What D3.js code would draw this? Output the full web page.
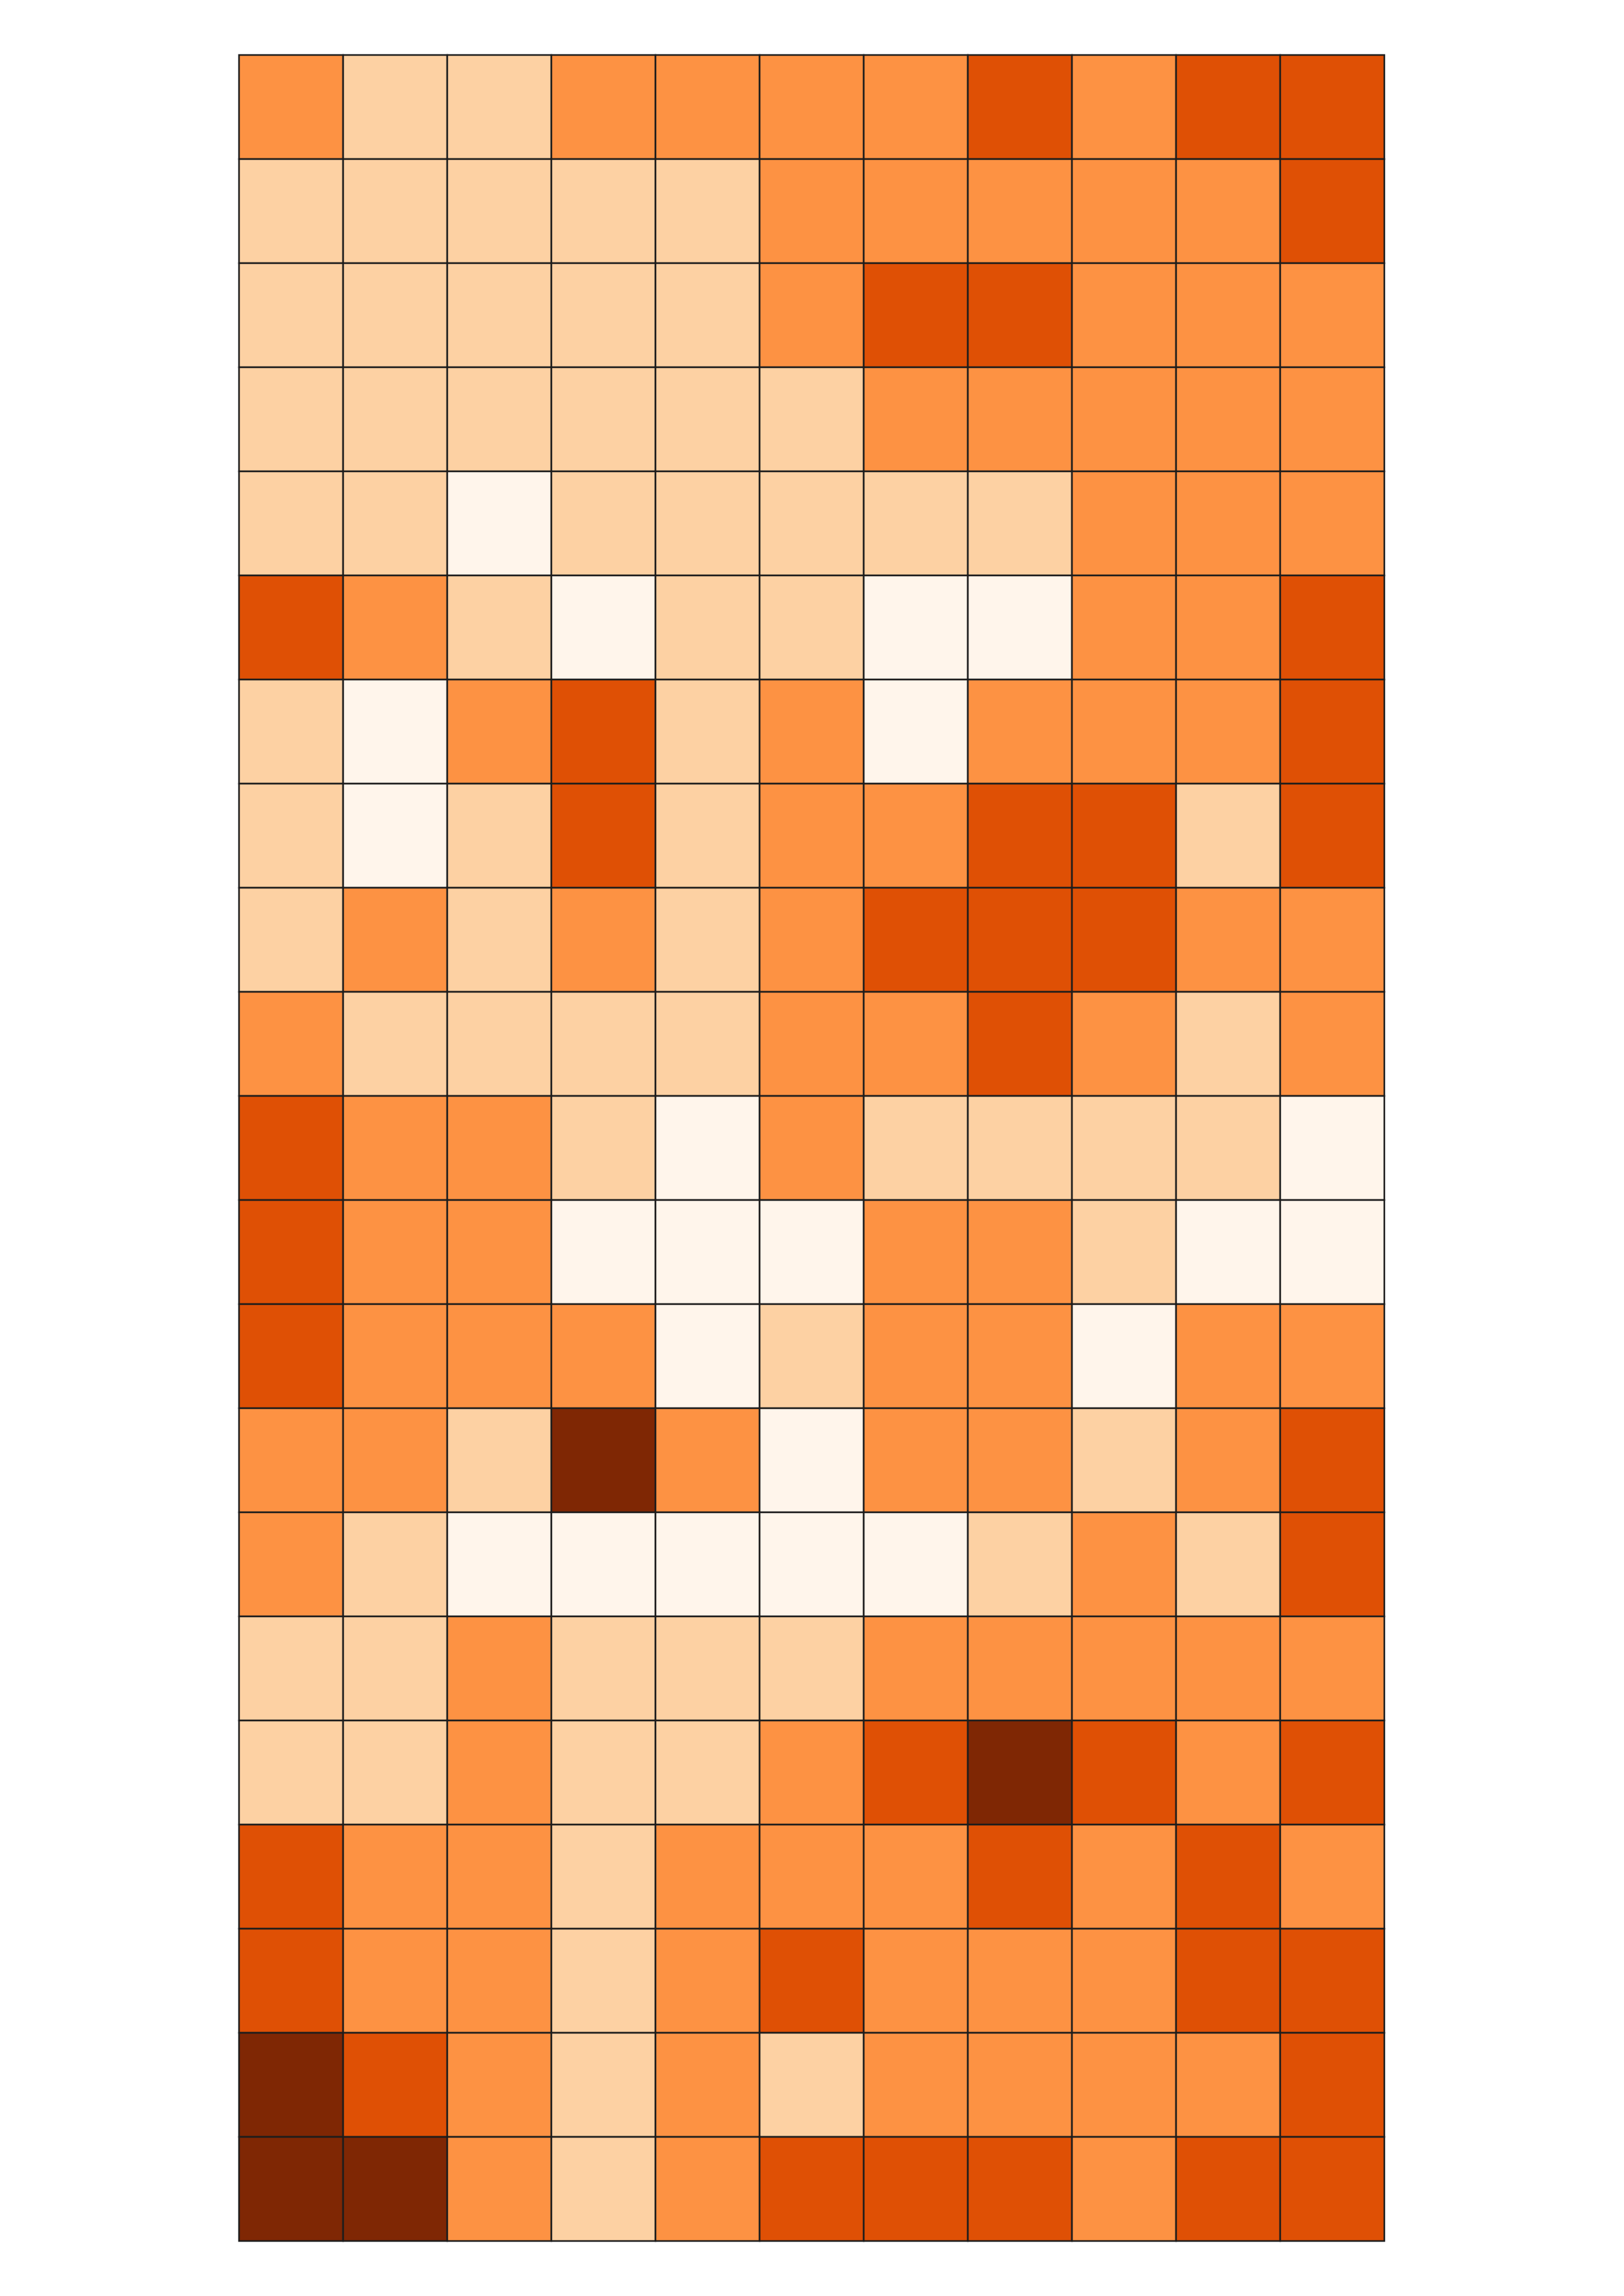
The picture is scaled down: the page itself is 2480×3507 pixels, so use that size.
<!DOCTYPE html>
<html>
<head>
<meta charset="utf-8">
<script src="https://cdn.jsdelivr.net/npm/d3@7"></script>
<style>
  html, body { margin: 0; padding: 0; background: #ffffff; }
  svg { display: block; }
</style>
</head>
<body>
<svg id="chart" width="2480" height="3507"></svg>
<script>
// Column and row categories (no labels drawn in the reference)
const columns = ["c1","c2","c3","c4","c5","c6","c7","c8","c9","c10","c11"];
const rows = ["r1","r2","r3","r4","r5","r6","r7","r8","r9","r10","r11",
              "r12","r13","r14","r15","r16","r17","r18","r19","r20","r21"];

// Discrete class levels (0 = lightest ... 4 = darkest), one array per row
const r1  = [2,1,1,2,2,2,2,3,2,3,3];
const r2  = [1,1,1,1,1,2,2,2,2,2,3];
const r3  = [1,1,1,1,1,2,3,3,2,2,2];
const r4  = [1,1,1,1,1,1,2,2,2,2,2];
const r5  = [1,1,0,1,1,1,1,1,2,2,2];
const r6  = [3,2,1,0,1,1,0,0,2,2,3];
const r7  = [1,0,2,3,1,2,0,2,2,2,3];
const r8  = [1,0,1,3,1,2,2,3,3,1,3];
const r9  = [1,2,1,2,1,2,3,3,3,2,2];
const r10 = [2,1,1,1,1,2,2,3,2,1,2];
const r11 = [3,2,2,1,0,2,1,1,1,1,0];
const r12 = [3,2,2,0,0,0,2,2,1,0,0];
const r13 = [3,2,2,2,0,1,2,2,0,2,2];
const r14 = [2,2,1,4,2,0,2,2,1,2,3];
const r15 = [2,1,0,0,0,0,0,1,2,1,3];
const r16 = [1,1,2,1,1,1,2,2,2,2,2];
const r17 = [1,1,2,1,1,2,3,4,3,2,3];
const r18 = [3,2,2,1,2,2,2,3,2,3,2];
const r19 = [3,2,2,1,2,3,2,2,2,3,3];
const r20 = [4,3,2,1,2,1,2,2,2,2,3];
const r21 = [4,4,2,1,2,3,3,3,2,3,3];
const levelRows = [r1,r2,r3,r4,r5,r6,r7,r8,r9,r10,r11,r12,r13,r14,r15,r16,r17,r18,r19,r20,r21];

const levels = [0,1,2,3,4];
const palette = ["#fff5eb","#fdd1a3","#fd9243","#df5005","#7f2704"];

// Build cell table from the arrays
const cells = [];
levelRows.forEach((vals, i) => {
  vals.forEach((v, j) => cells.push({row: rows[i], col: columns[j], value: v}));
});

const plotLeft = 365, plotRight = 2114, plotTop = 84, plotBottom = 3423;

const x = d3.scaleBand().domain(columns).range([plotLeft, plotRight]).padding(0);
const y = d3.scaleBand().domain(rows).range([plotTop, plotBottom]).padding(0);
const color = d3.scaleOrdinal().domain(levels).range(palette);

const svg = d3.select("#chart");
svg.append("rect").attr("width", 2480).attr("height", 3507).attr("fill", "#ffffff");

svg.append("g")
  .selectAll("rect")
  .data(cells)
  .join("rect")
  .attr("x", d => x(d.col))
  .attr("y", d => y(d.row))
  .attr("width", x.bandwidth())
  .attr("height", y.bandwidth())
  .attr("fill", d => color(d.value))
  .attr("stroke", "#1c1c1c")
  .attr("stroke-width", 2.5);
</script>
</body>
</html>
